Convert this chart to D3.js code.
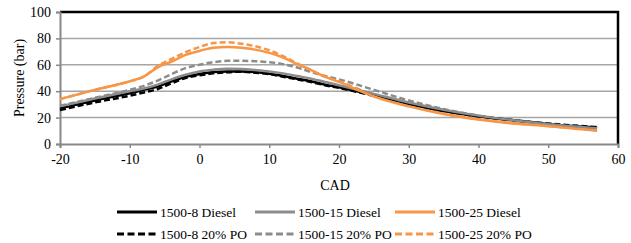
<!DOCTYPE html>
<html>
<head>
<meta charset="utf-8">
<script src="https://cdn.jsdelivr.net/npm/d3@7"></script>
<style>
  body { margin: 0; background: #fff; }
  #chart text { font-family: "Liberation Serif" !important; }
</style>
</head>
<body>
<svg id="chart" width="631" height="243" font-family="Liberation Serif"></svg>
<script>
// crank angle (deg)
var cad = [-20, -15, -10, -8, -6, -4, -2, 0, 2, 4, 6, 8, 10, 12, 14, 16, 18, 20, 25, 30, 35, 40, 45, 50, 57];

// pressure (bar)
var diesel8  = [27, 33, 38.5, 41, 43.5, 47.5, 51, 53, 54.5, 55, 55, 54.5, 53.3, 51.5, 49.5, 47.5, 45, 43, 37, 30.5, 25, 21, 18, 15, 12.5];
var diesel15 = [28.5, 34.5, 40, 42, 45, 49, 52.5, 55, 56.3, 57, 56.8, 56, 55, 53.5, 51.5, 49.5, 47, 44.5, 38, 31.5, 26, 21.5, 18, 15, 12];
var diesel25 = [34, 41, 47.5, 51, 58, 62.5, 67.5, 70.5, 73, 73.5, 73, 71.5, 69, 65.5, 60.5, 56, 51, 47, 36, 28.5, 22.7, 18.5, 15.5, 13.5, 10];
var po8  = [25.7, 31.5, 36.6, 39, 41.7, 46, 50, 52, 53.5, 54.3, 54.8, 54, 53, 51, 49, 47, 44.5, 42.5, 36.5, 30.5, 25, 21, 18, 15.5, 12.8];
var po15 = [29, 35, 41, 44, 48, 53, 57.5, 60, 62, 63, 63, 62.7, 62, 60.5, 58, 54.5, 51.5, 49, 41, 33, 26.5, 21.5, 17.8, 15, 12];
var po25 = [34, 41, 47.5, 51, 59, 64.5, 69.5, 73.5, 76.5, 77, 76, 74, 71, 66.5, 61, 56, 51, 47.5, 37, 29, 23, 18.8, 15.8, 13.7, 10.3];

var xTicks = [-20, -10, 0, 10, 20, 30, 40, 50, 60];
var yTicks = [0, 20, 40, 60, 80, 100];

var seriesNames = ["1500-8 Diesel", "1500-15 Diesel", "1500-25 Diesel",
                   "1500-8 20% PO", "1500-15 20% PO", "1500-25 20% PO"];
var seriesValues = [diesel8, diesel15, diesel25, po8, po15, po25];
var seriesColors = ["#000000", "#8c8c8c", "#f79646", "#000000", "#8c8c8c", "#f79646"];
var seriesDashed = [false, false, false, true, true, true];

var svg = d3.select("#chart");

var x = d3.scaleLinear().domain([-20, 60]).range([60, 618]);
var y = d3.scaleLinear().domain([0, 100]).range([144, 12]);

// gridlines
svg.append("g")
    .selectAll("line")
    .data(yTicks.filter(function(d) { return d > 0 && d < 100; }))
    .enter().append("line")
    .attr("x1", x(-20)).attr("x2", x(60))
    .attr("y1", function(d) { return y(d); })
    .attr("y2", function(d) { return y(d); })
    .attr("stroke", "#a6a6a6")
    .attr("stroke-width", 1.5);

// plot border (top and right black)
svg.append("path")
    .attr("d", "M" + x(-20) + "," + y(100) + "H" + x(60) + "V" + y(0))
    .attr("fill", "none")
    .attr("stroke", "#000")
    .attr("stroke-width", 2.5);

// axes, hyphen minus like the original
var plain = function(d) { return String(d); };
var xAxis = svg.append("g")
    .attr("transform", "translate(0," + y(0) + ")")
    .call(d3.axisBottom(x).tickValues(xTicks).tickFormat(plain).tickSize(4).tickPadding(6));
var yAxis = svg.append("g")
    .attr("transform", "translate(" + x(-20) + ",0)")
    .call(d3.axisLeft(y).tickValues(yTicks).tickFormat(plain).tickSize(4).tickPadding(5));

[xAxis, yAxis].forEach(function(ax) {
    ax.attr("font-family", "Liberation Serif").attr("font-size", 14);
    ax.select(".domain").attr("stroke", "#888").attr("stroke-width", 2);
    ax.selectAll(".tick line").attr("stroke", "#888").attr("stroke-width", 1.5);
    ax.selectAll("text").attr("fill", "#000");
});

// lines
var line = d3.line()
    .x(function(d, i) { return x(cad[i]); })
    .y(function(d) { return y(d); })
    .curve(d3.curveMonotoneX);

// dashed first, solid drawn over them
[3, 4, 5, 0, 1, 2].forEach(function(i) {
    svg.append("path")
        .datum(seriesValues[i])
        .attr("d", line)
        .attr("fill", "none")
        .attr("stroke", seriesColors[i])
        .attr("stroke-width", 2.5)
        .attr("stroke-dasharray", seriesDashed[i] ? "6,3" : null);
});

// axis titles
svg.append("text")
    .attr("x", 335).attr("y", 190)
    .attr("text-anchor", "middle")
    .attr("font-size", 14)
    .text("CAD");

svg.append("text")
    .attr("transform", "translate(24," + y(50) + ") rotate(-90)")
    .attr("text-anchor", "middle")
    .attr("font-size", 14)
    .text("Pressure (bar)");

// legend
var legendX = [117, 255, 395],
    legendY = [212, 234];

seriesNames.forEach(function(name, i) {
    var col = i % 3, row = Math.floor(i / 3);
    var g = svg.append("g")
        .attr("transform", "translate(" + legendX[col] + "," + legendY[row] + ")");
    g.append("line")
        .attr("x1", 0).attr("x2", 40)
        .attr("y1", 0).attr("y2", 0)
        .attr("stroke", seriesColors[i])
        .attr("stroke-width", 3)
        .attr("stroke-dasharray", seriesDashed[i] ? "7,3.5" : null);
    g.append("text")
        .attr("x", 43).attr("y", 0)
        .attr("dy", "0.35em")
        .attr("font-size", 13.5)
        .text(name);
});
</script>
</body>
</html>
